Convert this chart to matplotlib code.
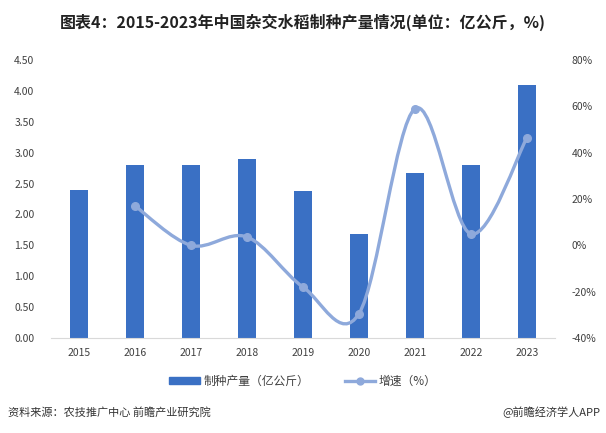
import numpy as np
import matplotlib
matplotlib.use('Agg')
import matplotlib.pyplot as plt
from matplotlib.path import Path
from matplotlib.patches import PathPatch
from matplotlib.lines import Line2D
from matplotlib.patches import Patch

plt.rcParams['font.family'] = ['Noto Sans CJK SC', 'DejaVu Sans']

years = ['2015', '2016', '2017', '2018', '2019', '2020', '2021', '2022', '2023']
output = [2.40, 2.80, 2.80, 2.90, 2.38, 1.68, 2.67, 2.80, 4.10]
growth_years = ['2016', '2017', '2018', '2019', '2020', '2021', '2022', '2023']
growth = [17.0, 0.0, 3.6, -18.0, -29.5, 59.0, 4.9, 46.5]

bar_color = '#3A70C4'
line_color = '#8EA9DB'
tick_color = '#404040'

fig = plt.figure(figsize=(6.06, 4.33), dpi=100)
ax = fig.add_axes([0.0842, 0.2194, 0.8316, 0.642])
x = np.arange(len(years))
ax.bar(x, output, width=0.32, color=bar_color, zorder=2)
ax.set_xlim(-0.5, len(years) - 0.5)
ax.set_ylim(0, 4.5)
ax.set_yticks(np.arange(0, 4.51, 0.5))
ax.set_yticklabels([f'{v:.2f}' for v in np.arange(0, 4.51, 0.5)])
ax.set_xticks(x)
ax.set_xticklabels(years)
for s in ['top', 'left', 'right']:
    ax.spines[s].set_visible(False)
ax.spines['bottom'].set_color('#D9D9D9')
ax.tick_params(length=0, labelsize=7.5, colors=tick_color)
ax.tick_params(axis='y', pad=12)
ax.tick_params(axis='x', pad=7)

ax2 = ax.twinx()
ax2.set_ylim(-40, 80)
ax2.set_yticks(range(-40, 81, 20))
ax2.set_yticklabels([f'{v}%' for v in range(-40, 81, 20)])
for s in ax2.spines.values():
    s.set_visible(False)
ax2.tick_params(length=0, labelsize=7.5, colors=tick_color, pad=12)

# smoothed line (Catmull-Rom style bezier through the points)
gx = np.array([years.index(y) for y in growth_years], dtype=float)
gy = np.array(growth)
pts = np.column_stack([gx, gy])
verts = [pts[0]]
codes = [Path.MOVETO]
n = len(pts)
for i in range(n - 1):
    p0 = pts[i - 1] if i > 0 else pts[i]
    p1 = pts[i]
    p2 = pts[i + 1]
    p3 = pts[i + 2] if i + 2 < n else pts[i + 1]
    c1 = p1 + (p2 - p0) / 6
    c2 = p2 - (p3 - p1) / 6
    verts += [c1, c2, p2]
    codes += [Path.CURVE4] * 3
ax2.add_patch(PathPatch(Path(verts, codes), facecolor='none',
                        edgecolor=line_color, lw=2.4, zorder=3))
ax2.plot(gx, gy, 'o', color=line_color, ms=5.5, zorder=4)

fig.text(0.5, 0.948, '图表4：2015-2023年中国杂交水稻制种产量情况(单位：亿公斤，%)',
         ha='center', va='center', fontsize=11.5, fontweight='bold', color='#222222')

handles = [Patch(color=bar_color),
           Line2D([0], [0], color=line_color, lw=2.4, marker='o', ms=5)]
fig.legend(handles, ['制种产量（亿公斤）', '增速（%）'], loc='center',
           bbox_to_anchor=(0.5, 0.12), ncol=2, frameon=False, fontsize=8.5,
           handlelength=2.6, handleheight=0.5, columnspacing=3, handletextpad=0.3,
           labelcolor=tick_color)

fig.text(0.013, 0.048, '资料来源：农技推广中心 前瞻产业研究院', ha='left', va='center',
         fontsize=8, color='#333333')
fig.text(0.99, 0.048, '@前瞻经济学人APP', ha='right', va='center',
         fontsize=8, color='#333333')

fig.savefig('out.png', dpi=100)
